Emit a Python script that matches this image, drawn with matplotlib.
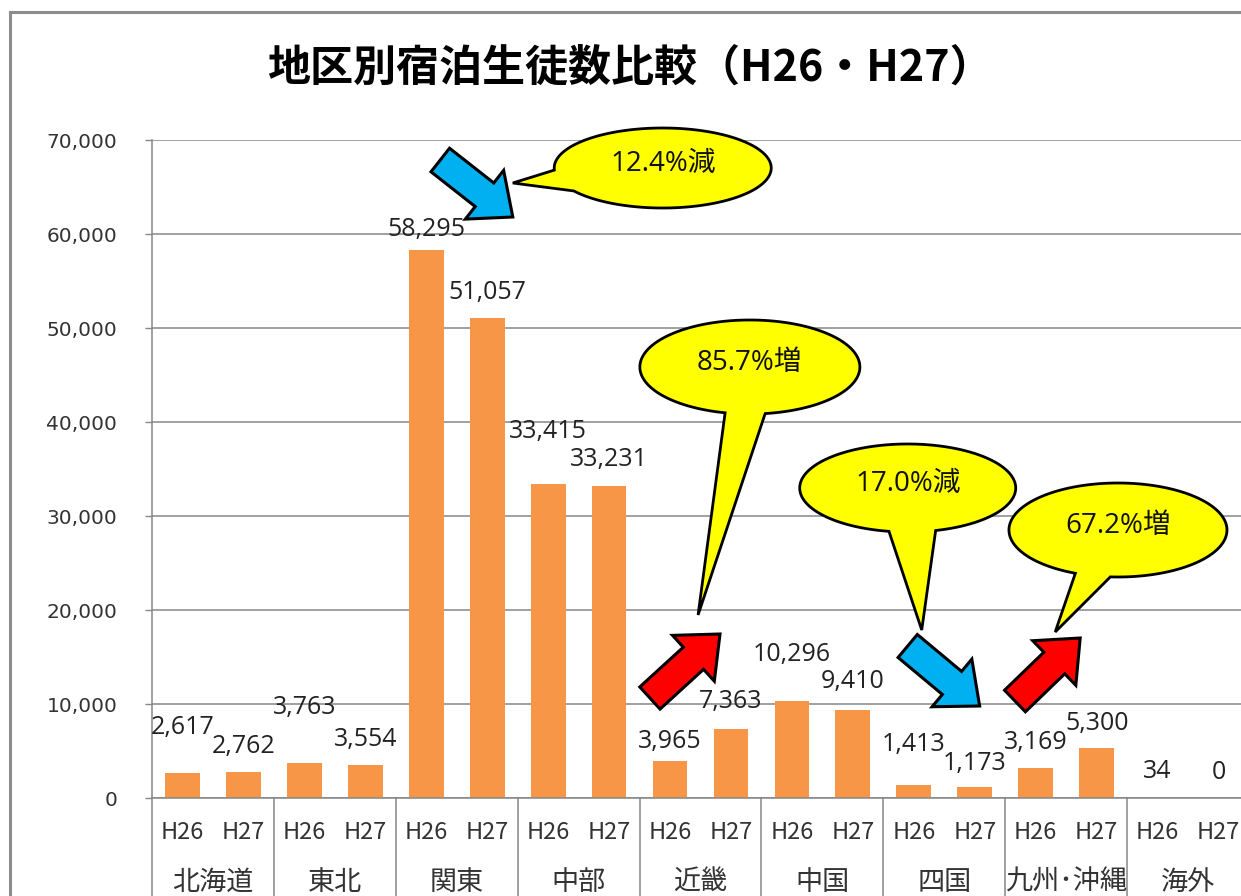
import matplotlib
matplotlib.use('Agg')
import matplotlib.pyplot as plt
import numpy as np
from matplotlib.patches import Polygon, Rectangle
from matplotlib.transforms import IdentityTransform

# ---------------- data ----------------
regions = ['北海道', '東北', '関東', '中部', '近畿', '中国', '四国', '九州･沖縄', '海外']
years = ['H26', 'H27']
h26 = [2617, 3763, 58295, 33415, 3965, 10296, 1413, 3169, 34]
h27 = [2762, 3554, 51057, 33231, 7363, 9410, 1173, 5300, 0]
y_ticks = [0, 10000, 20000, 30000, 40000, 50000, 60000, 70000]
title = '地区別宿泊生徒数比較（H26・H27）'

# callout texts
callout_texts = ['12.4%減', '85.7%増', '17.0%減', '67.2%増']

# ---------------- layout / style ----------------
W, H = 1241, 896
BAR_COLOR = '#F79646'
GRID = '#868686'
label_offsets_px = [46, 26, 55, 25, 21, 26, 52, 26, 19, 27, 47, 28, 40, 23, 26, 25, 26, 26]

plt.rcParams['font.family'] = ['DejaVu Sans', 'Noto Sans CJK JP']

fig = plt.figure(figsize=(W / 100, H / 100), dpi=100)
fig.patch.set_facecolor('white')

# chart-area border
fig.add_artist(Rectangle((10 / W, -0.1), 1.2, (H - 12) / H + 0.1,
                         transform=fig.transFigure, fill=False,
                         edgecolor='#8c8c8c', linewidth=2.2))

ax_left, ax_bottom = 152 / W, (H - 798) / H
ax_w, ax_h = 1097 / W, 658 / H
ax = fig.add_axes([ax_left, ax_bottom, ax_w, ax_h])

values = []
for a, b in zip(h26, h27):
    values += [a, b]
n = len(values)
xs = np.arange(n) + 0.5

ax.bar(xs, values, width=0.57, color=BAR_COLOR, zorder=2)
ax.set_xlim(0, n)
ax.set_ylim(y_ticks[0], y_ticks[-1])
ax.set_yticks(y_ticks)
ax.set_yticklabels([f'{v:,}' for v in y_ticks], fontsize=14.5, color='#333333')
ax.tick_params(axis='y', length=5, width=1, color=GRID, pad=20, direction='out')
ax.set_xticks([])
ax.grid(axis='y', color=GRID, linewidth=1.1)
ax.set_axisbelow(True)
for s in ['top', 'right']:
    ax.spines[s].set_visible(False)
for s in ['left', 'bottom']:
    ax.spines[s].set_color(GRID)
    ax.spines[s].set_linewidth(1.1)

# data labels
for x, v, off in zip(xs, values, label_offsets_px):
    ax.annotate(f'{v:,}', xy=(x, v), xytext=(0, off), textcoords='offset pixels',
                ha='center', va='center', fontsize=18, color='#222222',
                family=['Open Sans', 'DejaVu Sans'], zorder=5)

# x-axis multi-level labels
xt = ax.get_xaxis_transform()
for i, x in enumerate(xs):
    ax.annotate(years[i % 2], xy=(x, 0), xycoords=xt, xytext=(0, -34),
                textcoords='offset pixels', ha='center', va='center',
                fontsize=17, color='#333333', family=['Noto Sans CJK JP'],
                annotation_clip=False)
for g, name in enumerate(regions):
    ax.annotate(name, xy=(2 * g + 1, 0), xycoords=xt, xytext=(0, -84),
                textcoords='offset pixels', ha='center', va='center',
                fontsize=19.5, color='#333333', family=['Noto Sans CJK JP'],
                annotation_clip=False)
for g in range(len(regions) + 1):
    ax.plot([2 * g, 2 * g], [0, -0.2], transform=xt, color=GRID, lw=1.1,
            clip_on=False, zorder=1)

# title
fig.text(630 / W, 1 - 68 / H, title, ha='center', va='center', fontsize=31,
         fontweight='bold', family=['Noto Sans CJK JP'], color='black')

# ---------------- annotations (anchored in data coords) ----------------
fig.canvas.draw()
td = ax.transData

def to_disp(pt):
    return np.array(td.transform(pt))

def block_arrow(tail, tip, color, sw=15, hw=31, hl=36):
    T, P = to_disp(tail), to_disp(tip)
    d = P - T
    L = np.hypot(*d)
    u = d / L
    nrm = np.array([-u[1], u[0]])
    hb = T + u * (L - hl)
    pts = [T + nrm * sw, hb + nrm * sw, hb + nrm * hw, P,
           hb - nrm * hw, hb - nrm * sw, T - nrm * sw]
    fig.add_artist(Polygon(pts, closed=True, transform=IdentityTransform(),
                           facecolor=color, edgecolor='black', linewidth=2.2,
                           joinstyle='miter', zorder=10))

def callout(text, center, tip, a, b, t1, t2):
    C, P = to_disp(center), to_disp(tip)
    ts = np.radians(np.linspace(t2, t1 + 360, 300))
    pts = [(C[0] + a * np.cos(t), C[1] - b * np.sin(t)) for t in ts]
    pts.append(tuple(P))
    fig.add_artist(Polygon(pts, closed=True, transform=IdentityTransform(),
                           facecolor='#FFFF00', edgecolor='black', linewidth=2.0,
                           zorder=11))
    fig.text(C[0] / W, (C[1] + 4) / H, text, ha='center', va='center', fontsize=20,
             family=['Open Sans', 'Noto Sans CJK JP'], color='#111111', zorder=12)

# arrows: tail centre -> tip  (x in bar slots, y in data units)
block_arrow((4.73, 67872), (5.92, 61809), '#00B0F0')
block_arrow((8.17, 10638), (9.32, 17447), '#FF0000')
block_arrow((12.40, 16170), (13.58, 9787), '#00B0F0')
block_arrow((14.16, 10319), (15.23, 17021), '#FF0000')

# callouts: centre, tail tip, semi-axes (px), tail base angles
callout(callout_texts[0], (8.38, 67021), (5.92, 65426), 108.5, 40, 145, 177)
callout(callout_texts[1], (9.81, 45851), (8.96, 19468), 110, 47, 82, 103)
callout(callout_texts[2], (12.40, 32979), (12.63, 17872), 108, 44, 75, 100)
callout(callout_texts[3], (15.85, 28511), (14.82, 17660), 109, 47, 94, 113)

fig.savefig('out.png', dpi=100)
